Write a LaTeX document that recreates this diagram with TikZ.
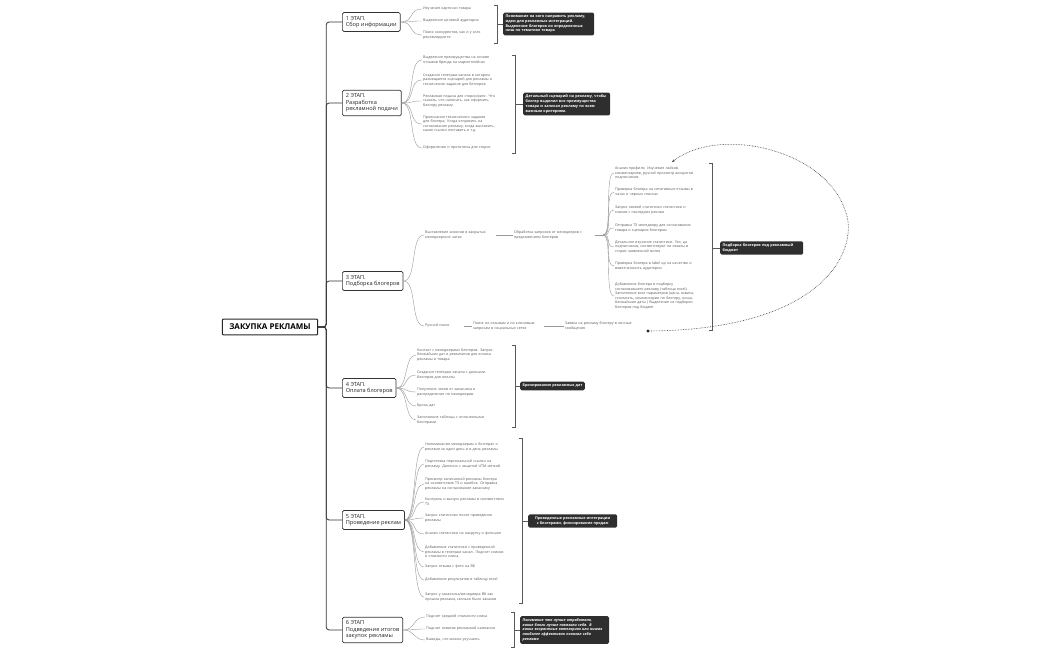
\documentclass[tikz,border=0pt]{standalone}
\usepackage{fontspec}
\setmainfont{Open Sans}
\usetikzlibrary{arrows.meta}
\begin{document}
\begin{tikzpicture}[x=1pt,y=-1pt,
  root/.style={draw=black!85,line width=1pt,rounded corners=1pt,inner xsep=7pt,inner ysep=5pt,font=\fontsize{8}{9}\selectfont\bfseries},
  stage/.style={draw=black!80,line width=0.7pt,rounded corners=1.5pt,inner sep=3.5pt,align=left,font=\fontsize{5.6}{6.6}\selectfont,text=black!85},
  leaf/.style={anchor=west,inner sep=1pt,align=left,text width=#1,font=\fontsize{3.6}{4.6}\selectfont,text=black!65},
  leaf/.default=76pt,
  summ/.style={anchor=west,fill=black!82,text=white,rounded corners=1.5pt,inner sep=2.5pt,align=left,font=\fontsize{3.7}{4.7}\selectfont\bfseries},
  trunk/.style={draw=black!80,line width=0.8pt,rounded corners=3pt},
  branch/.style={draw=black!40,line width=0.4pt},
  brk/.style={draw=black!65,line width=0.6pt}]
\useasboundingbox (0,0) rectangle (1050,650);
\node[root] (root) at (270,327) {ЗАКУПКА РЕКЛАМЫ};
\node[stage,anchor=west] (s1) at (342,22) {1 ЭТАП.\\Сбор информации};
\node[stage,anchor=west] (s2) at (342,103) {2 ЭТАП.\\Разработка\\рекламной подачи};
\node[stage,anchor=west] (s3) at (342,281) {3 ЭТАП.\\Подборка блогеров};
\node[stage,anchor=west] (s4) at (342,388) {4 ЭТАП.\\Оплата блогеров};
\node[stage,anchor=west] (s5) at (342,520) {5 ЭТАП.\\Проведение реклам};
\node[stage,anchor=west] (s6) at (342,630) {6 ЭТАП\\Подведение итогов\\закупок рекламы};
\foreach \s in {1,...,6}
  \draw[trunk] (root.east) -- ++(8,0) |- (s\s.west);
% 1 stage
\foreach \y/\t [count=\i] in {9/Изучение карточки товара,
  21/Выделение целевой аудитории,
  35/{Поиск конкурентов, как и у кого рекламируются}}{
  \node[leaf] (a\i) at (422,\y) {\t};
  \draw[branch] (s1.east) .. controls +(14,0) and +(-14,0) .. (a\i.west);}
\draw[brk] (494,5) -- (497,5) -- (497,43) -- (494,43);
\node[summ,text width=86pt] (b1) at (503,24) {Понимание на кого направить рекламу, идеи для рекламных интеграций. Выделение блогеров из определенных ниш по тематике товара};
\draw[brk] (497,24) -- (b1.west);
% 2 stage
\foreach \y/\t [count=\i] in {60/Выделение преимущества на основе отзывов бренда на маркетплейсах,
  80/Создание телеграм-канала в котором размещается сценарий для рекламы и техническое задание для блогеров,
  101/{Рекламная подача для сторис/рилс. Что сказать, что написать, как оформить блогеру рекламу},
  124/{Прописание технического задания для блогера. Когда отправить на согласование рекламу, когда выставить, какие ссылки поставить и т.д.},
  148/Оформление и прототипы для сторис}{
  \node[leaf] (c\i) at (422,\y) {\t};
  \draw[branch] (s2.east) .. controls +(14,0) and +(-14,0) .. (c\i.west);}
\draw[brk] (512,55) -- (515,55) -- (515,153) -- (512,153);
\node[summ,text width=82pt] (b2) at (523,104) {Детальный сценарий на рекламу, чтобы блогер выделил все преимущества товара и записал рекламу по всем важным критериям.};
\draw[brk] (515,104) -- (b2.west);
% 3 stage
\node[leaf=70pt] (d1) at (424,235) {Выставление анонсов в закрытых менеджерских чатах};
\node[leaf=80pt] (d2) at (513,235) {Обработка запросов от менеджеров с предложением блогеров};
\node[leaf=42pt] (e1) at (424,326) {Ручной поиск};
\node[leaf=70pt] (e2) at (472,326) {Поиск по отзывам и по ключевым запросам в социальных сетях};
\node[leaf=80pt] (e3) at (564,326) {Заявка на рекламу блогеру в личные сообщения};
\draw[branch] (s3.east) .. controls +(14,0) and +(-14,0) .. (d1.west);
\draw[branch] (s3.east) .. controls +(14,0) and +(-14,0) .. (e1.west);
\draw[branch] (d1.east) -- (d2.west);
\draw[branch] (464,326) -- (e2.west);
\draw[branch] (544,326) -- (e3.west);
\coordinate (fork) at (603,235);
\foreach \y/\t [count=\i] in {173/{Анализ профиля. Изучение лайков, комментариев, ручной просмотр аккаунтов подписчиков},
  192/Проверка блогера на негативные отзывы в чатах и черных списках,
  210/Запрос свежей статистики статистики и кликов с последних реклам,
  228/Отправка ТЗ менеджеру для согласования товара и сценария блогером,
  247/{Детальное изучение статистики. Гео, ца подписчиков, соответствуют ли охваты в сторис заявленной вилке},
  266/Проверка блогера в label up на качество и вовлеченность аудитории,
  296/{Добавление блогера в подборку согласовавшего рекламу (таблица excel). Заполнение всех параметров (цена, охваты, стоимость, комментарии по блогеру, ниша, ближайшие даты ) Выделение из подборки блогеров под бюджет}}{
  \node[leaf=80pt] (f\i) at (614,\y) {\t};
  \draw[branch] (fork) .. controls +(10,0) and +(-10,0) .. (f\i.west);}
\draw[branch] (d2.east) -- (fork);
\draw[brk] (709,163) -- (712,163) -- (712,330) -- (709,330);
\node[summ,text width=78pt] (b3) at (720,248) {Подборка блогеров под рекламный бюджет};
\draw[brk] (712,248) -- (b3.west);
\fill[black!85] (648,331) circle (1.6pt) coordinate (dot);
\coordinate (tip) at (672,162);
\draw[densely dotted,line width=0.6pt,black!80,-{Stealth[length=3pt]}] (dot) .. controls (830,330) and (860,245) .. (845,210) .. controls (825,150) and (720,125) .. (tip);
% 4 stage
\foreach \y/\t [count=\i] in {355/{Контакт с менеджерами блогеров. Запрос ближайших дат и реквизитов для оплаты рекламы и товара},
  375/Создание телеграм канала с данными блогеров для оплаты,
  392/Получение чеков от заказчика и распределение по менеджерам,
  406/Бронь дат,
  420/Заполнение таблицы с оплаченными блогерами}{
  \node[leaf] (g\i) at (416,\y) {\t};
  \draw[branch] (s4.east) .. controls +(12,0) and +(-12,0) .. (g\i.west);}
\draw[brk] (512,345) -- (515,345) -- (515,427) -- (512,427);
\node[summ] (b4) at (520,386) {Бронирование рекламных дат};
\draw[brk] (515,386) -- (b4.west);
% 5 stage
\foreach \y/\t [count=\i] in {447/Напоминание менеджерам о блогерах о рекламе за один день и в день рекламы,
  464/Подготовка персональной ссылки на рекламу. Диплинк с защитой UTM меткой,
  484/Просмотр записанной рекламы блогера на соответствие ТЗ и ошибок. Отправка рекламы на согласование заказчику,
  502/Контроль и выпуск рекламы в соответствии ТЗ,
  518/Запрос статистики после проведения рекламы,
  534/Анализ статистики на накрутку и фотошоп,
  552/Добавление статистики с проведенной рекламы в телеграм канал. Подсчет кликов и стоимости клика.,
  567/Запрос отзыва с фото на ВБ,
  580/Добавление результатов в таблицу excel,
  597/{Запрос у заказчика/менеджера ВБ как прошла реклама, сколько было заказов}}{
  \node[leaf=82pt] (h\i) at (424,\y) {\t};
  \draw[branch] (s5.east) .. controls +(12,0) and +(-12,0) .. (h\i.west);}
\draw[brk] (519,438) -- (522,438) -- (522,603) -- (519,603);
\node[summ,align=center,text width=84pt] (b5) at (528,521) {Проведенные рекламные интеграции с блогерами, фиксирование продаж};
\draw[brk] (522,521) -- (b5.west);
% 6 stage
\foreach \y/\t [count=\i] in {617/Подсчет средней стоимости клика,
  629/Подсчет охватов рекламной кампании,
  640/{Выводы, что можно улучшить}}{
  \node[leaf=86pt] (k\i) at (425,\y) {\t};
  \draw[branch] (s6.east) .. controls +(12,0) and +(-12,0) .. (k\i.west);}
\draw[brk] (511,612) -- (514,612) -- (514,647) -- (511,647);
\node[summ,text width=84pt,font=\fontsize{3.7}{4.7}\selectfont\bfseries\itshape] (b6) at (520,630) {Понимание что лучше отработало, какие блоги лучше показали себя. В каких возрастных категориях или нишах наиболее эффективно показал себя реклама};
\draw[brk] (514,630) -- (b6.west);
\end{tikzpicture}
\end{document}
